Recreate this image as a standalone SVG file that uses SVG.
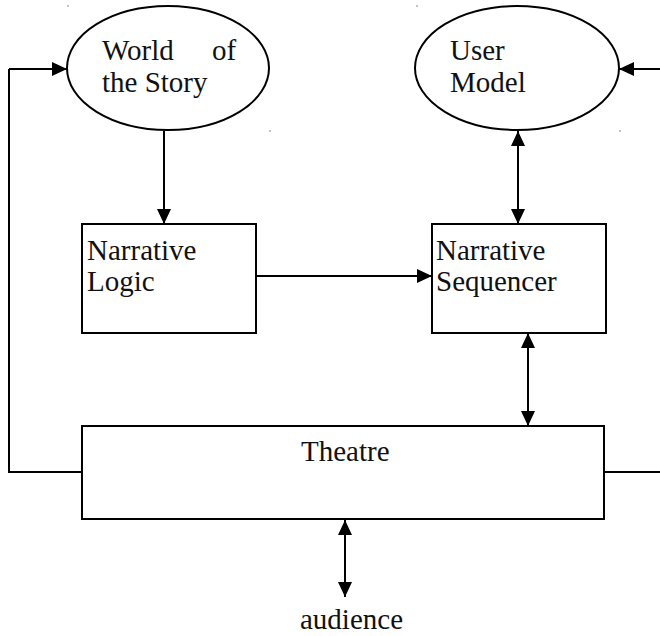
<svg xmlns="http://www.w3.org/2000/svg" width="660" height="636" viewBox="0 0 660 636">
<style>
.shape{fill:#fff;stroke:#000;stroke-width:2}
.t{font-family:"Liberation Serif","Times New Roman",serif;font-size:29px;fill:#111}
.c{fill:none;stroke:#000;stroke-width:2}
.dot{fill:#777}
</style>
<defs>
<marker id="ah" markerUnits="userSpaceOnUse" markerWidth="15" markerHeight="14" refX="15" refY="7" orient="auto-start-reverse">
<path d="M0,0 L15,7 L0,14 z" fill="#000"/>
</marker>
</defs>
<rect width="660" height="636" fill="#fff"/>
<circle class="dot" cx="68" cy="6" r="0.8"/>
<circle class="dot" cx="270" cy="131" r="0.8"/>
<circle class="dot" cx="417" cy="6" r="0.8"/>
<circle class="dot" cx="620" cy="131" r="0.8"/>
<g id="connectors">
<path class="c" d="M9,69 L67,69" marker-end="url(#ah)"/>
<path class="c" d="M82,472 L9,472 L9,69"/>
<path class="c" d="M660,69 L619,69" marker-end="url(#ah)"/>
<path class="c" d="M604,472 L660,472"/>
<path class="c" d="M164,131 L164,224" marker-end="url(#ah)"/>
<path class="c" d="M256,276 L432,276" marker-end="url(#ah)"/>
<path class="c" d="M518,131 L518,224" marker-start="url(#ah)" marker-end="url(#ah)"/>
<path class="c" d="M528,333 L528,426" marker-start="url(#ah)" marker-end="url(#ah)"/>
<path class="c" d="M345,520 L345,597" marker-start="url(#ah)" marker-end="url(#ah)"/>
</g>
<g id="world">
<ellipse class="shape" cx="168" cy="68" rx="101" ry="62"/>
<text class="t"><tspan x="102" y="60">World</tspan> <tspan x="212" y="60">of</tspan></text>
<text class="t" x="102" y="92">the Story</text>
</g>
<g id="usermodel">
<ellipse class="shape" cx="517" cy="68" rx="102" ry="62"/>
<text class="t" x="450" y="60">User</text>
<text class="t" x="450" y="92">Model</text>
</g>
<g id="logic">
<rect class="shape" x="82" y="224" width="174" height="109"/>
<text class="t" x="87" y="260">Narrative</text>
<text class="t" x="87" y="291">Logic</text>
</g>
<g id="sequencer">
<rect class="shape" x="432" y="224" width="174" height="109"/>
<text class="t" x="436" y="260">Narrative</text>
<text class="t" x="436" y="291">Sequencer</text>
</g>
<g id="theatre">
<rect class="shape" x="82" y="426" width="522" height="93"/>
<text class="t" x="301" y="461">Theatre</text>
</g>
<g id="audience">
<text class="t" x="300" y="629">audience</text>
</g>
</svg>
